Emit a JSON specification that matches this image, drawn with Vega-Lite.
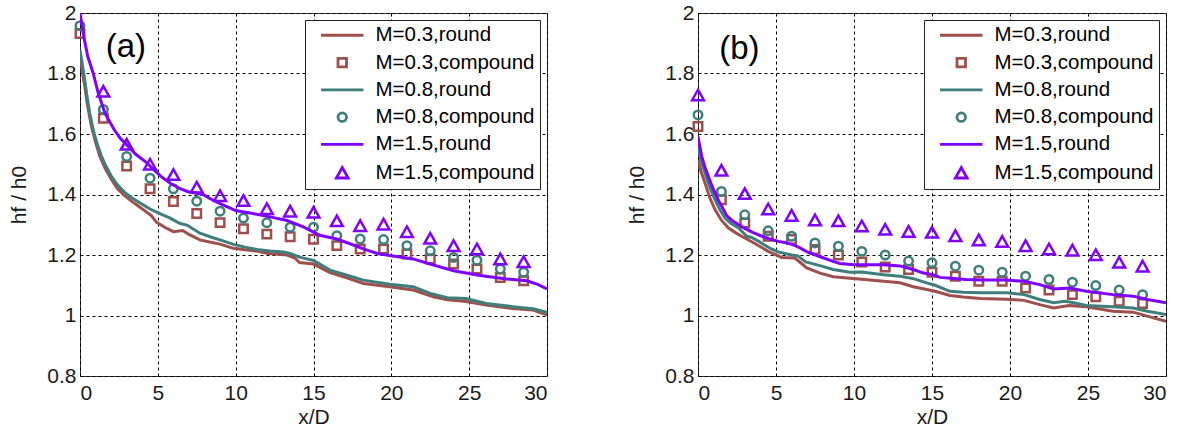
{
  "$schema": "https://vega.github.io/schema/vega-lite/v6.json",
  "background": "white",
  "padding": {"left": 8, "top": 1, "right": 5, "bottom": 5},
  "spacing": 151,
  "bounds": "flush",
  "datasets": {
    "curvesA": [
      {"series": "M=0.3,round", "x": 0, "y": 1.856}, {"series": "M=0.3,round", "x": 0.15, "y": 1.805}, {"series": "M=0.3,round", "x": 0.3, "y": 1.76}, {"series": "M=0.3,round", "x": 0.5, "y": 1.69}, {"series": "M=0.3,round", "x": 0.73, "y": 1.627}, {"series": "M=0.3,round", "x": 1.0, "y": 1.572}, {"series": "M=0.3,round", "x": 1.26, "y": 1.528}, {"series": "M=0.3,round", "x": 1.6, "y": 1.488}, {"series": "M=0.3,round", "x": 2.0, "y": 1.451}, {"series": "M=0.3,round", "x": 2.4, "y": 1.42}, {"series": "M=0.3,round", "x": 2.87, "y": 1.396}, {"series": "M=0.3,round", "x": 3.3, "y": 1.378}, {"series": "M=0.3,round", "x": 3.72, "y": 1.363}, {"series": "M=0.3,round", "x": 4.2, "y": 1.345}, {"series": "M=0.3,round", "x": 4.58, "y": 1.33}, {"series": "M=0.3,round", "x": 4.92, "y": 1.308}, {"series": "M=0.3,round", "x": 5.5, "y": 1.29}, {"series": "M=0.3,round", "x": 6.0, "y": 1.277}, {"series": "M=0.3,round", "x": 6.6, "y": 1.281}, {"series": "M=0.3,round", "x": 7.0, "y": 1.268}, {"series": "M=0.3,round", "x": 7.7, "y": 1.25}, {"series": "M=0.3,round", "x": 8.4, "y": 1.242}, {"series": "M=0.3,round", "x": 9.0, "y": 1.236}, {"series": "M=0.3,round", "x": 9.85, "y": 1.222}, {"series": "M=0.3,round", "x": 10.6, "y": 1.217}, {"series": "M=0.3,round", "x": 11.35, "y": 1.213}, {"series": "M=0.3,round", "x": 12.0, "y": 1.206}, {"series": "M=0.3,round", "x": 13.3, "y": 1.2}, {"series": "M=0.3,round", "x": 13.8, "y": 1.19}, {"series": "M=0.3,round", "x": 14.1, "y": 1.175}, {"series": "M=0.3,round", "x": 15.0, "y": 1.17}, {"series": "M=0.3,round", "x": 16.06, "y": 1.142}, {"series": "M=0.3,round", "x": 17.1, "y": 1.125}, {"series": "M=0.3,round", "x": 18.2, "y": 1.106}, {"series": "M=0.3,round", "x": 19.9, "y": 1.095}, {"series": "M=0.3,round", "x": 21.4, "y": 1.084}, {"series": "M=0.3,round", "x": 22.7, "y": 1.062}, {"series": "M=0.3,round", "x": 23.6, "y": 1.052}, {"series": "M=0.3,round", "x": 24.8, "y": 1.046}, {"series": "M=0.3,round", "x": 26.1, "y": 1.035}, {"series": "M=0.3,round", "x": 27.8, "y": 1.023}, {"series": "M=0.3,round", "x": 29.1, "y": 1.018}, {"series": "M=0.3,round", "x": 30, "y": 1.002},
      {"series": "M=0.8,round", "x": 0, "y": 1.878}, {"series": "M=0.8,round", "x": 0.15, "y": 1.83}, {"series": "M=0.8,round", "x": 0.3, "y": 1.78}, {"series": "M=0.8,round", "x": 0.45, "y": 1.725}, {"series": "M=0.8,round", "x": 0.62, "y": 1.67}, {"series": "M=0.8,round", "x": 0.8, "y": 1.625}, {"series": "M=0.8,round", "x": 0.94, "y": 1.595}, {"series": "M=0.8,round", "x": 1.15, "y": 1.56}, {"series": "M=0.8,round", "x": 1.37, "y": 1.528}, {"series": "M=0.8,round", "x": 1.65, "y": 1.495}, {"series": "M=0.8,round", "x": 2.0, "y": 1.462}, {"series": "M=0.8,round", "x": 2.4, "y": 1.432}, {"series": "M=0.8,round", "x": 2.87, "y": 1.407}, {"series": "M=0.8,round", "x": 3.3, "y": 1.39}, {"series": "M=0.8,round", "x": 3.7, "y": 1.377}, {"series": "M=0.8,round", "x": 4.5, "y": 1.352}, {"series": "M=0.8,round", "x": 5.2, "y": 1.335}, {"series": "M=0.8,round", "x": 5.8, "y": 1.322}, {"series": "M=0.8,round", "x": 6.4, "y": 1.305}, {"series": "M=0.8,round", "x": 6.9, "y": 1.298}, {"series": "M=0.8,round", "x": 7.7, "y": 1.272}, {"series": "M=0.8,round", "x": 8.5, "y": 1.258}, {"series": "M=0.8,round", "x": 9.0, "y": 1.25}, {"series": "M=0.8,round", "x": 9.85, "y": 1.235}, {"series": "M=0.8,round", "x": 10.6, "y": 1.226}, {"series": "M=0.8,round", "x": 11.5, "y": 1.217}, {"series": "M=0.8,round", "x": 12.2, "y": 1.213}, {"series": "M=0.8,round", "x": 13.06, "y": 1.21}, {"series": "M=0.8,round", "x": 13.5, "y": 1.205}, {"series": "M=0.8,round", "x": 14.1, "y": 1.193}, {"series": "M=0.8,round", "x": 15.0, "y": 1.182}, {"series": "M=0.8,round", "x": 16.06, "y": 1.15}, {"series": "M=0.8,round", "x": 17.1, "y": 1.134}, {"series": "M=0.8,round", "x": 18.2, "y": 1.117}, {"series": "M=0.8,round", "x": 19.9, "y": 1.103}, {"series": "M=0.8,round", "x": 21.4, "y": 1.095}, {"series": "M=0.8,round", "x": 22.5, "y": 1.073}, {"series": "M=0.8,round", "x": 23.6, "y": 1.059}, {"series": "M=0.8,round", "x": 24.8, "y": 1.056}, {"series": "M=0.8,round", "x": 26.1, "y": 1.04}, {"series": "M=0.8,round", "x": 27.8, "y": 1.029}, {"series": "M=0.8,round", "x": 29.1, "y": 1.022}, {"series": "M=0.8,round", "x": 30, "y": 1.011},
      {"series": "M=1.5,round", "x": 0, "y": 2.0}, {"series": "M=1.5,round", "x": 0.25, "y": 1.92}, {"series": "M=1.5,round", "x": 0.5, "y": 1.856}, {"series": "M=1.5,round", "x": 0.85, "y": 1.8}, {"series": "M=1.5,round", "x": 1.16, "y": 1.738}, {"series": "M=1.5,round", "x": 1.6, "y": 1.669}, {"series": "M=1.5,round", "x": 2.2, "y": 1.614}, {"series": "M=1.5,round", "x": 2.6, "y": 1.585}, {"series": "M=1.5,round", "x": 3.1, "y": 1.559}, {"series": "M=1.5,round", "x": 3.6, "y": 1.532}, {"series": "M=1.5,round", "x": 4.2, "y": 1.509}, {"series": "M=1.5,round", "x": 4.7, "y": 1.484}, {"series": "M=1.5,round", "x": 5.2, "y": 1.46}, {"series": "M=1.5,round", "x": 5.8, "y": 1.437}, {"series": "M=1.5,round", "x": 6.4, "y": 1.42}, {"series": "M=1.5,round", "x": 6.9, "y": 1.41}, {"series": "M=1.5,round", "x": 7.9, "y": 1.4}, {"series": "M=1.5,round", "x": 8.4, "y": 1.385}, {"series": "M=1.5,round", "x": 9.0, "y": 1.37}, {"series": "M=1.5,round", "x": 10.0, "y": 1.347}, {"series": "M=1.5,round", "x": 11.1, "y": 1.337}, {"series": "M=1.5,round", "x": 12.2, "y": 1.326}, {"series": "M=1.5,round", "x": 13.3, "y": 1.314}, {"series": "M=1.5,round", "x": 14.35, "y": 1.293}, {"series": "M=1.5,round", "x": 15.4, "y": 1.265}, {"series": "M=1.5,round", "x": 16.5, "y": 1.253}, {"series": "M=1.5,round", "x": 17.3, "y": 1.238}, {"series": "M=1.5,round", "x": 18.2, "y": 1.22}, {"series": "M=1.5,round", "x": 19.1, "y": 1.205}, {"series": "M=1.5,round", "x": 19.9, "y": 1.198}, {"series": "M=1.5,round", "x": 21.4, "y": 1.187}, {"series": "M=1.5,round", "x": 22.5, "y": 1.17}, {"series": "M=1.5,round", "x": 24.0, "y": 1.148}, {"series": "M=1.5,round", "x": 25.7, "y": 1.132}, {"series": "M=1.5,round", "x": 27.4, "y": 1.121}, {"series": "M=1.5,round", "x": 28.7, "y": 1.115}, {"series": "M=1.5,round", "x": 29.4, "y": 1.103}, {"series": "M=1.5,round", "x": 30, "y": 1.088}
    ],
    "markersA": [
      {"series": "M=0.3,compound", "x": 0, "y": 1.932}, {"series": "M=0.3,compound", "x": 1.5, "y": 1.652}, {"series": "M=0.3,compound", "x": 3, "y": 1.494}, {"series": "M=0.3,compound", "x": 4.5, "y": 1.419}, {"series": "M=0.3,compound", "x": 6, "y": 1.377}, {"series": "M=0.3,compound", "x": 7.5, "y": 1.337}, {"series": "M=0.3,compound", "x": 9, "y": 1.307}, {"series": "M=0.3,compound", "x": 10.5, "y": 1.287}, {"series": "M=0.3,compound", "x": 12, "y": 1.269}, {"series": "M=0.3,compound", "x": 13.5, "y": 1.26}, {"series": "M=0.3,compound", "x": 15, "y": 1.252}, {"series": "M=0.3,compound", "x": 16.5, "y": 1.231}, {"series": "M=0.3,compound", "x": 18, "y": 1.22}, {"series": "M=0.3,compound", "x": 19.5, "y": 1.22}, {"series": "M=0.3,compound", "x": 21, "y": 1.203}, {"series": "M=0.3,compound", "x": 22.5, "y": 1.187}, {"series": "M=0.3,compound", "x": 24, "y": 1.17}, {"series": "M=0.3,compound", "x": 25.5, "y": 1.154}, {"series": "M=0.3,compound", "x": 27, "y": 1.126}, {"series": "M=0.3,compound", "x": 28.5, "y": 1.115},
      {"series": "M=0.8,compound", "x": 0, "y": 1.958}, {"series": "M=0.8,compound", "x": 1.5, "y": 1.681}, {"series": "M=0.8,compound", "x": 3, "y": 1.526}, {"series": "M=0.8,compound", "x": 4.5, "y": 1.454}, {"series": "M=0.8,compound", "x": 6, "y": 1.419}, {"series": "M=0.8,compound", "x": 7.5, "y": 1.378}, {"series": "M=0.8,compound", "x": 9, "y": 1.345}, {"series": "M=0.8,compound", "x": 10.5, "y": 1.322}, {"series": "M=0.8,compound", "x": 12, "y": 1.307}, {"series": "M=0.8,compound", "x": 13.5, "y": 1.292}, {"series": "M=0.8,compound", "x": 15, "y": 1.292}, {"series": "M=0.8,compound", "x": 16.5, "y": 1.264}, {"series": "M=0.8,compound", "x": 18, "y": 1.253}, {"series": "M=0.8,compound", "x": 19.5, "y": 1.251}, {"series": "M=0.8,compound", "x": 21, "y": 1.231}, {"series": "M=0.8,compound", "x": 22.5, "y": 1.214}, {"series": "M=0.8,compound", "x": 24, "y": 1.192}, {"series": "M=0.8,compound", "x": 25.5, "y": 1.183}, {"series": "M=0.8,compound", "x": 27, "y": 1.154}, {"series": "M=0.8,compound", "x": 28.5, "y": 1.143},
      {"series": "M=1.5,compound", "x": 1.5, "y": 1.741}, {"series": "M=1.5,compound", "x": 3, "y": 1.566}, {"series": "M=1.5,compound", "x": 4.5, "y": 1.5}, {"series": "M=1.5,compound", "x": 6, "y": 1.466}, {"series": "M=1.5,compound", "x": 7.5, "y": 1.424}, {"series": "M=1.5,compound", "x": 9, "y": 1.396}, {"series": "M=1.5,compound", "x": 10.5, "y": 1.38}, {"series": "M=1.5,compound", "x": 12, "y": 1.353}, {"series": "M=1.5,compound", "x": 13.5, "y": 1.345}, {"series": "M=1.5,compound", "x": 15, "y": 1.341}, {"series": "M=1.5,compound", "x": 16.5, "y": 1.313}, {"series": "M=1.5,compound", "x": 18, "y": 1.297}, {"series": "M=1.5,compound", "x": 19.5, "y": 1.302}, {"series": "M=1.5,compound", "x": 21, "y": 1.277}, {"series": "M=1.5,compound", "x": 22.5, "y": 1.255}, {"series": "M=1.5,compound", "x": 24, "y": 1.231}, {"series": "M=1.5,compound", "x": 25.5, "y": 1.22}, {"series": "M=1.5,compound", "x": 27, "y": 1.187}, {"series": "M=1.5,compound", "x": 28.5, "y": 1.178}
    ],
    "curvesB": [
      {"series": "M=0.3,round", "x": 0, "y": 1.515}, {"series": "M=0.3,round", "x": 0.2, "y": 1.475}, {"series": "M=0.3,round", "x": 0.45, "y": 1.438}, {"series": "M=0.3,round", "x": 0.75, "y": 1.39}, {"series": "M=0.3,round", "x": 1.09, "y": 1.35}, {"series": "M=0.3,round", "x": 1.5, "y": 1.315}, {"series": "M=0.3,round", "x": 1.94, "y": 1.29}, {"series": "M=0.3,round", "x": 2.4, "y": 1.274}, {"series": "M=0.3,round", "x": 2.8, "y": 1.262}, {"series": "M=0.3,round", "x": 3.65, "y": 1.238}, {"series": "M=0.3,round", "x": 4.5, "y": 1.212}, {"series": "M=0.3,round", "x": 5.36, "y": 1.192}, {"series": "M=0.3,round", "x": 6.2, "y": 1.19}, {"series": "M=0.3,round", "x": 6.54, "y": 1.176}, {"series": "M=0.3,round", "x": 6.97, "y": 1.157}, {"series": "M=0.3,round", "x": 7.82, "y": 1.14}, {"series": "M=0.3,round", "x": 8.67, "y": 1.128}, {"series": "M=0.3,round", "x": 9.74, "y": 1.123}, {"series": "M=0.3,round", "x": 10.5, "y": 1.12}, {"series": "M=0.3,round", "x": 11.9, "y": 1.113}, {"series": "M=0.3,round", "x": 12.95, "y": 1.108}, {"series": "M=0.3,round", "x": 13.8, "y": 1.095}, {"series": "M=0.3,round", "x": 14.66, "y": 1.086}, {"series": "M=0.3,round", "x": 15.2, "y": 1.08}, {"series": "M=0.3,round", "x": 16.15, "y": 1.066}, {"series": "M=0.3,round", "x": 17.0, "y": 1.061}, {"series": "M=0.3,round", "x": 18.1, "y": 1.056}, {"series": "M=0.3,round", "x": 19.8, "y": 1.054}, {"series": "M=0.3,round", "x": 20.9, "y": 1.05}, {"series": "M=0.3,round", "x": 21.9, "y": 1.036}, {"series": "M=0.3,round", "x": 22.8, "y": 1.025}, {"series": "M=0.3,round", "x": 23.8, "y": 1.033}, {"series": "M=0.3,round", "x": 24.9, "y": 1.029}, {"series": "M=0.3,round", "x": 26.6, "y": 1.014}, {"series": "M=0.3,round", "x": 27.9, "y": 1.011}, {"series": "M=0.3,round", "x": 28.8, "y": 0.998}, {"series": "M=0.3,round", "x": 30, "y": 0.981},
      {"series": "M=0.8,round", "x": 0, "y": 1.559}, {"series": "M=0.8,round", "x": 0.2, "y": 1.51}, {"series": "M=0.8,round", "x": 0.45, "y": 1.471}, {"series": "M=0.8,round", "x": 0.75, "y": 1.425}, {"series": "M=0.8,round", "x": 1.09, "y": 1.383}, {"series": "M=0.8,round", "x": 1.4, "y": 1.35}, {"series": "M=0.8,round", "x": 1.73, "y": 1.322}, {"series": "M=0.8,round", "x": 2.1, "y": 1.305}, {"series": "M=0.8,round", "x": 2.58, "y": 1.29}, {"series": "M=0.8,round", "x": 3.12, "y": 1.262}, {"series": "M=0.8,round", "x": 3.44, "y": 1.258}, {"series": "M=0.8,round", "x": 3.9, "y": 1.245}, {"series": "M=0.8,round", "x": 4.29, "y": 1.232}, {"series": "M=0.8,round", "x": 4.7, "y": 1.22}, {"series": "M=0.8,round", "x": 5.15, "y": 1.21}, {"series": "M=0.8,round", "x": 6.0, "y": 1.2}, {"series": "M=0.8,round", "x": 6.4, "y": 1.197}, {"series": "M=0.8,round", "x": 6.9, "y": 1.177}, {"series": "M=0.8,round", "x": 7.82, "y": 1.165}, {"series": "M=0.8,round", "x": 8.67, "y": 1.152}, {"series": "M=0.8,round", "x": 9.74, "y": 1.143}, {"series": "M=0.8,round", "x": 10.5, "y": 1.144}, {"series": "M=0.8,round", "x": 11.9, "y": 1.135}, {"series": "M=0.8,round", "x": 12.95, "y": 1.13}, {"series": "M=0.8,round", "x": 13.8, "y": 1.122}, {"series": "M=0.8,round", "x": 14.66, "y": 1.108}, {"series": "M=0.8,round", "x": 15.2, "y": 1.1}, {"series": "M=0.8,round", "x": 16.15, "y": 1.08}, {"series": "M=0.8,round", "x": 17.0, "y": 1.077}, {"series": "M=0.8,round", "x": 18.1, "y": 1.075}, {"series": "M=0.8,round", "x": 19.8, "y": 1.075}, {"series": "M=0.8,round", "x": 20.9, "y": 1.069}, {"series": "M=0.8,round", "x": 21.9, "y": 1.053}, {"series": "M=0.8,round", "x": 22.8, "y": 1.042}, {"series": "M=0.8,round", "x": 23.5, "y": 1.047}, {"series": "M=0.8,round", "x": 24.0, "y": 1.043}, {"series": "M=0.8,round", "x": 24.9, "y": 1.033}, {"series": "M=0.8,round", "x": 26.6, "y": 1.029}, {"series": "M=0.8,round", "x": 27.9, "y": 1.025}, {"series": "M=0.8,round", "x": 28.8, "y": 1.014}, {"series": "M=0.8,round", "x": 30, "y": 1.003},
      {"series": "M=1.5,round", "x": 0, "y": 1.592}, {"series": "M=1.5,round", "x": 0.24, "y": 1.526}, {"series": "M=1.5,round", "x": 0.45, "y": 1.49}, {"series": "M=1.5,round", "x": 0.66, "y": 1.46}, {"series": "M=1.5,round", "x": 0.88, "y": 1.43}, {"series": "M=1.5,round", "x": 1.09, "y": 1.405}, {"series": "M=1.5,round", "x": 1.3, "y": 1.382}, {"series": "M=1.5,round", "x": 1.52, "y": 1.361}, {"series": "M=1.5,round", "x": 1.84, "y": 1.33}, {"series": "M=1.5,round", "x": 2.16, "y": 1.315}, {"series": "M=1.5,round", "x": 2.6, "y": 1.3}, {"series": "M=1.5,round", "x": 3.0, "y": 1.288}, {"series": "M=1.5,round", "x": 3.5, "y": 1.275}, {"series": "M=1.5,round", "x": 4.1, "y": 1.262}, {"series": "M=1.5,round", "x": 4.6, "y": 1.253}, {"series": "M=1.5,round", "x": 5.15, "y": 1.245}, {"series": "M=1.5,round", "x": 5.7, "y": 1.24}, {"series": "M=1.5,round", "x": 6.2, "y": 1.232}, {"series": "M=1.5,round", "x": 6.6, "y": 1.222}, {"series": "M=1.5,round", "x": 7.0, "y": 1.21}, {"series": "M=1.5,round", "x": 7.8, "y": 1.195}, {"series": "M=1.5,round", "x": 8.7, "y": 1.178}, {"series": "M=1.5,round", "x": 9.1, "y": 1.172}, {"series": "M=1.5,round", "x": 10.0, "y": 1.168}, {"series": "M=1.5,round", "x": 11.9, "y": 1.168}, {"series": "M=1.5,round", "x": 12.95, "y": 1.164}, {"series": "M=1.5,round", "x": 13.8, "y": 1.152}, {"series": "M=1.5,round", "x": 14.4, "y": 1.141}, {"series": "M=1.5,round", "x": 15.1, "y": 1.134}, {"series": "M=1.5,round", "x": 15.5, "y": 1.126}, {"series": "M=1.5,round", "x": 16.4, "y": 1.122}, {"series": "M=1.5,round", "x": 17.2, "y": 1.119}, {"series": "M=1.5,round", "x": 18.1, "y": 1.117}, {"series": "M=1.5,round", "x": 19.8, "y": 1.117}, {"series": "M=1.5,round", "x": 20.9, "y": 1.113}, {"series": "M=1.5,round", "x": 21.9, "y": 1.102}, {"series": "M=1.5,round", "x": 22.8, "y": 1.088}, {"series": "M=1.5,round", "x": 23.8, "y": 1.091}, {"series": "M=1.5,round", "x": 24.9, "y": 1.08}, {"series": "M=1.5,round", "x": 26.6, "y": 1.069}, {"series": "M=1.5,round", "x": 27.9, "y": 1.064}, {"series": "M=1.5,round", "x": 28.8, "y": 1.053}, {"series": "M=1.5,round", "x": 30, "y": 1.042}
    ],
    "markersB": [
      {"series": "M=0.3,compound", "x": 0, "y": 1.625}, {"series": "M=0.3,compound", "x": 1.5, "y": 1.383}, {"series": "M=0.3,compound", "x": 3, "y": 1.306}, {"series": "M=0.3,compound", "x": 4.5, "y": 1.262}, {"series": "M=0.3,compound", "x": 6, "y": 1.251}, {"series": "M=0.3,compound", "x": 7.5, "y": 1.218}, {"series": "M=0.3,compound", "x": 9, "y": 1.2}, {"series": "M=0.3,compound", "x": 10.5, "y": 1.177}, {"series": "M=0.3,compound", "x": 12, "y": 1.16}, {"series": "M=0.3,compound", "x": 13.5, "y": 1.152}, {"series": "M=0.3,compound", "x": 15, "y": 1.143}, {"series": "M=0.3,compound", "x": 16.5, "y": 1.13}, {"series": "M=0.3,compound", "x": 18, "y": 1.113}, {"series": "M=0.3,compound", "x": 19.5, "y": 1.113}, {"series": "M=0.3,compound", "x": 21, "y": 1.091}, {"series": "M=0.3,compound", "x": 22.5, "y": 1.084}, {"series": "M=0.3,compound", "x": 24, "y": 1.069}, {"series": "M=0.3,compound", "x": 25.5, "y": 1.062}, {"series": "M=0.3,compound", "x": 27, "y": 1.047}, {"series": "M=0.3,compound", "x": 28.5, "y": 1.04},
      {"series": "M=0.8,compound", "x": 0, "y": 1.663}, {"series": "M=0.8,compound", "x": 1.5, "y": 1.41}, {"series": "M=0.8,compound", "x": 3, "y": 1.333}, {"series": "M=0.8,compound", "x": 4.5, "y": 1.28}, {"series": "M=0.8,compound", "x": 6, "y": 1.262}, {"series": "M=0.8,compound", "x": 7.5, "y": 1.24}, {"series": "M=0.8,compound", "x": 9, "y": 1.229}, {"series": "M=0.8,compound", "x": 10.5, "y": 1.212}, {"series": "M=0.8,compound", "x": 12, "y": 1.2}, {"series": "M=0.8,compound", "x": 13.5, "y": 1.18}, {"series": "M=0.8,compound", "x": 15, "y": 1.174}, {"series": "M=0.8,compound", "x": 16.5, "y": 1.163}, {"series": "M=0.8,compound", "x": 18, "y": 1.15}, {"series": "M=0.8,compound", "x": 19.5, "y": 1.143}, {"series": "M=0.8,compound", "x": 21, "y": 1.13}, {"series": "M=0.8,compound", "x": 22.5, "y": 1.119}, {"series": "M=0.8,compound", "x": 24, "y": 1.11}, {"series": "M=0.8,compound", "x": 25.5, "y": 1.099}, {"series": "M=0.8,compound", "x": 27, "y": 1.084}, {"series": "M=0.8,compound", "x": 28.5, "y": 1.069},
      {"series": "M=1.5,compound", "x": 0, "y": 1.729}, {"series": "M=1.5,compound", "x": 1.5, "y": 1.48}, {"series": "M=1.5,compound", "x": 3, "y": 1.403}, {"series": "M=1.5,compound", "x": 4.5, "y": 1.352}, {"series": "M=1.5,compound", "x": 6, "y": 1.331}, {"series": "M=1.5,compound", "x": 7.5, "y": 1.316}, {"series": "M=1.5,compound", "x": 9, "y": 1.313}, {"series": "M=1.5,compound", "x": 10.5, "y": 1.296}, {"series": "M=1.5,compound", "x": 12, "y": 1.285}, {"series": "M=1.5,compound", "x": 13.5, "y": 1.278}, {"series": "M=1.5,compound", "x": 15, "y": 1.275}, {"series": "M=1.5,compound", "x": 16.5, "y": 1.264}, {"series": "M=1.5,compound", "x": 18, "y": 1.25}, {"series": "M=1.5,compound", "x": 19.5, "y": 1.245}, {"series": "M=1.5,compound", "x": 21, "y": 1.231}, {"series": "M=1.5,compound", "x": 22.5, "y": 1.22}, {"series": "M=1.5,compound", "x": 24, "y": 1.216}, {"series": "M=1.5,compound", "x": 25.5, "y": 1.201}, {"series": "M=1.5,compound", "x": 27, "y": 1.176}, {"series": "M=1.5,compound", "x": 28.5, "y": 1.163}
    ]
  },
  "hconcat": [
    {
      "width": 467,
      "height": 363,
      "encoding": {
        "x": {"field": "x", "type": "quantitative", "scale": {"domain": [0, 30], "nice": false, "zero": false}, "axis": {"title": "x/D", "values": [0, 5, 10, 15, 20, 25, 30]}},
        "y": {"field": "y", "type": "quantitative", "scale": {"domain": [0.8, 2], "nice": false, "zero": false}, "axis": {"title": "hf / h0", "values": [0.8, 1, 1.2, 1.4, 1.6, 1.8, 2], "format": ".1~f"}},
        "color": {
          "field": "series", "type": "nominal",
          "scale": {"domain": ["M=0.3,round", "M=0.3,compound", "M=0.8,round", "M=0.8,compound", "M=1.5,round", "M=1.5,compound"], "range": ["#9f4f4c", "#9f4f4c", "#3e7f7c", "#3e7f7c", "#7f00ff", "#7f00ff"]},
          "legend": {"title": null, "orient": "top-right", "offset": 7}
        }
      },
      "layer": [
        {"data": {"name": "curvesA"}, "transform": [{"filter": "datum.series === 'M=0.3,round'"}], "mark": {"type": "line", "strokeWidth": 3, "clip": true}},
        {"data": {"name": "markersA"}, "transform": [{"filter": "datum.series === 'M=0.3,compound'"}], "mark": {"type": "point", "filled": false, "strokeWidth": 2.5, "opacity": 1, "size": 72},
          "encoding": {"shape": {"field": "series", "type": "nominal", "scale": {"domain": ["M=0.3,round", "M=0.3,compound", "M=0.8,round", "M=0.8,compound", "M=1.5,round", "M=1.5,compound"], "range": ["M-5,0H5", "square", "M-5,0H5", "circle", "M-5,0H5", "M0,-1.24L1.39,1.24L-1.39,1.24Z"]}, "legend": {"title": null, "orient": "top-right", "offset": 7}}}},
        {"data": {"name": "curvesA"}, "transform": [{"filter": "datum.series === 'M=0.8,round'"}], "mark": {"type": "line", "strokeWidth": 3, "clip": true}},
        {"data": {"name": "markersA"}, "transform": [{"filter": "datum.series === 'M=0.8,compound'"}], "mark": {"type": "point", "filled": false, "strokeWidth": 2.5, "opacity": 1, "size": 72},
          "encoding": {"shape": {"field": "series", "type": "nominal", "scale": {"domain": ["M=0.3,round", "M=0.3,compound", "M=0.8,round", "M=0.8,compound", "M=1.5,round", "M=1.5,compound"], "range": ["M-5,0H5", "square", "M-5,0H5", "circle", "M-5,0H5", "M0,-1.24L1.39,1.24L-1.39,1.24Z"]}, "legend": {"title": null, "orient": "top-right", "offset": 7}}}},
        {"data": {"name": "curvesA"}, "transform": [{"filter": "datum.series === 'M=1.5,round'"}], "mark": {"type": "line", "strokeWidth": 3, "clip": true}},
        {"data": {"name": "markersA"}, "transform": [{"filter": "datum.series === 'M=1.5,compound'"}], "mark": {"type": "point", "filled": false, "strokeWidth": 2.5, "opacity": 1, "size": 72},
          "encoding": {"shape": {"field": "series", "type": "nominal", "scale": {"domain": ["M=0.3,round", "M=0.3,compound", "M=0.8,round", "M=0.8,compound", "M=1.5,round", "M=1.5,compound"], "range": ["M-5,0H5", "square", "M-5,0H5", "circle", "M-5,0H5", "M0,-1.24L1.39,1.24L-1.39,1.24Z"]}, "legend": {"title": null, "orient": "top-right", "offset": 7}}}},
        {"data": {"values": [{"x": 2.95, "y": 1.888, "tag": "(a)"}]}, "mark": {"type": "text", "fontSize": 33, "align": "center", "baseline": "middle"}, "encoding": {"text": {"field": "tag"}, "color": {"value": "black"}}}
      ]
    },
    {
      "width": 468,
      "height": 363,
      "encoding": {
        "x": {"field": "x", "type": "quantitative", "scale": {"domain": [0, 30], "nice": false, "zero": false}, "axis": {"title": "x/D", "values": [0, 5, 10, 15, 20, 25, 30]}},
        "y": {"field": "y", "type": "quantitative", "scale": {"domain": [0.8, 2], "nice": false, "zero": false}, "axis": {"title": "hf / h0", "values": [0.8, 1, 1.2, 1.4, 1.6, 1.8, 2], "format": ".1~f"}},
        "color": {
          "field": "series", "type": "nominal",
          "scale": {"domain": ["M=0.3,round", "M=0.3,compound", "M=0.8,round", "M=0.8,compound", "M=1.5,round", "M=1.5,compound"], "range": ["#9f4f4c", "#9f4f4c", "#3e7f7c", "#3e7f7c", "#7f00ff", "#7f00ff"]},
          "legend": {"title": null, "orient": "top-right", "offset": 7}
        }
      },
      "layer": [
        {"data": {"name": "curvesB"}, "transform": [{"filter": "datum.series === 'M=0.3,round'"}], "mark": {"type": "line", "strokeWidth": 3, "clip": true}},
        {"data": {"name": "markersB"}, "transform": [{"filter": "datum.series === 'M=0.3,compound'"}], "mark": {"type": "point", "filled": false, "strokeWidth": 2.5, "opacity": 1, "size": 72},
          "encoding": {"shape": {"field": "series", "type": "nominal", "scale": {"domain": ["M=0.3,round", "M=0.3,compound", "M=0.8,round", "M=0.8,compound", "M=1.5,round", "M=1.5,compound"], "range": ["M-5,0H5", "square", "M-5,0H5", "circle", "M-5,0H5", "M0,-1.24L1.39,1.24L-1.39,1.24Z"]}, "legend": {"title": null, "orient": "top-right", "offset": 7}}}},
        {"data": {"name": "curvesB"}, "transform": [{"filter": "datum.series === 'M=0.8,round'"}], "mark": {"type": "line", "strokeWidth": 3, "clip": true}},
        {"data": {"name": "markersB"}, "transform": [{"filter": "datum.series === 'M=0.8,compound'"}], "mark": {"type": "point", "filled": false, "strokeWidth": 2.5, "opacity": 1, "size": 72},
          "encoding": {"shape": {"field": "series", "type": "nominal", "scale": {"domain": ["M=0.3,round", "M=0.3,compound", "M=0.8,round", "M=0.8,compound", "M=1.5,round", "M=1.5,compound"], "range": ["M-5,0H5", "square", "M-5,0H5", "circle", "M-5,0H5", "M0,-1.24L1.39,1.24L-1.39,1.24Z"]}, "legend": {"title": null, "orient": "top-right", "offset": 7}}}},
        {"data": {"name": "curvesB"}, "transform": [{"filter": "datum.series === 'M=1.5,round'"}], "mark": {"type": "line", "strokeWidth": 3, "clip": true}},
        {"data": {"name": "markersB"}, "transform": [{"filter": "datum.series === 'M=1.5,compound'"}], "mark": {"type": "point", "filled": false, "strokeWidth": 2.5, "opacity": 1, "size": 72},
          "encoding": {"shape": {"field": "series", "type": "nominal", "scale": {"domain": ["M=0.3,round", "M=0.3,compound", "M=0.8,round", "M=0.8,compound", "M=1.5,round", "M=1.5,compound"], "range": ["M-5,0H5", "square", "M-5,0H5", "circle", "M-5,0H5", "M0,-1.24L1.39,1.24L-1.39,1.24Z"]}, "legend": {"title": null, "orient": "top-right", "offset": 7}}}},
        {"data": {"values": [{"x": 2.65, "y": 1.881, "tag": "(b)"}]}, "mark": {"type": "text", "fontSize": 33, "align": "center", "baseline": "middle"}, "encoding": {"text": {"field": "tag"}, "color": {"value": "black"}}}
      ]
    }
  ],
  "resolve": {
    "scale": {"x": "independent", "y": "independent", "color": "independent", "shape": "independent"},
    "axis": {"x": "independent", "y": "independent"},
    "legend": {"color": "independent", "shape": "independent"}
  },
  "config": {
    "font": "Liberation Sans",
    "view": {"stroke": "#333333", "strokeWidth": 1},
    "text": {"font": "Liberation Sans"},
    "axis": {
      "labelFont": "Liberation Sans", "labelFontSize": 21, "labelColor": "#1a1a1a",
      "titleFont": "Liberation Sans", "titleFontSize": 21, "titleFontWeight": "normal", "titleColor": "#1a1a1a",
      "domain": false, "ticks": false, "grid": true,
      "gridColor": "#000000", "gridDash": [3, 3], "gridOpacity": 1, "gridWidth": 1
    },
    "axisX": {"labelPadding": 6, "titlePadding": 3},
    "axisY": {"labelPadding": 4, "titlePadding": 17},
    "legend": {
      "padding": 5, "strokeColor": "#222222", "strokeWidth": 1, "fillColor": "white", "cornerRadius": 0,
      "labelFont": "Liberation Sans", "labelFontSize": 20.5, "labelColor": "#000000", "labelLimit": 300,
      "symbolSize": 72, "symbolStrokeWidth": 2.8, "rowPadding": 6.3, "symbolOffset": 22, "labelOffset": 23,
      "symbolFillColor": "transparent"
    }
  }
}
